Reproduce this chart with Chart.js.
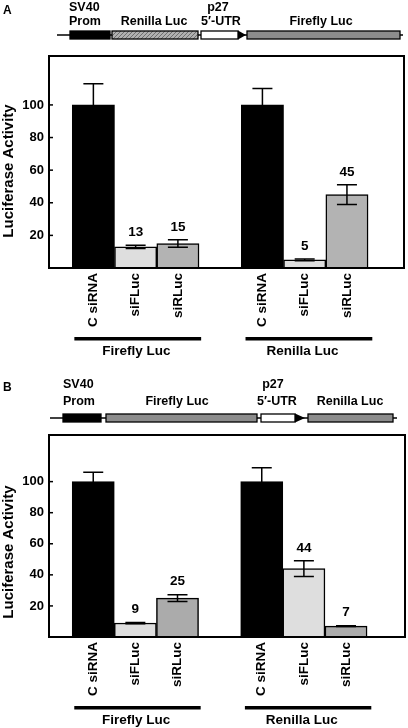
<!DOCTYPE html>
<html>
<head>
<meta charset="utf-8">
<script src="https://cdn.jsdelivr.net/npm/chart.js@4.4.0/dist/chart.umd.min.js"></script>
<style>
  html, body { margin: 0; padding: 0; background: #fff; }
  #wrap { position: relative; width: 408px; height: 728px; }
  canvas { position: absolute; left: 0; }
</style>
</head>
<body>
<div id="wrap">
  <canvas id="ch-a" width="408" height="364" style="top:0"></canvas>
  <canvas id="ch-b" width="408" height="364" style="top:364px"></canvas>
</div>
<script>
// data
const xPos = [0, 1, 2, 4, 5, 6];
const xLabels = ['C siRNA', 'siFLuc', 'siRLuc', 'C siRNA', 'siFLuc', 'siRLuc'];
const showValue = [false, true, true, false, true, true];
const groupNames = ['Firefly Luc', 'Renilla Luc'];
const yTicks = [20, 40, 60, 80, 100];

const valuesA = [100, 13, 15, 100, 5, 45];
const errorsA = [13, 1, 2.3, 10, 0.5, 6];
const colorsA = ['#000000', '#dedede', '#b3b3b3', '#000000', '#dedede', '#b3b3b3'];

const valuesB = [100, 9, 25, 100, 44, 7];
const errorsB = [6, 0.4, 2.2, 9, 5, 0.3];
const colorsB = ['#000000', '#dedede', '#ababab', '#000000', '#dedede', '#ababab'];

const FONT = '"Liberation Sans", Arial, sans-serif';

function hatch(ctx) {
  const c = document.createElement('canvas');
  c.width = 4; c.height = 4;
  const g = c.getContext('2d');
  g.fillStyle = '#b0b0b0'; g.fillRect(0, 0, 4, 4);
  g.strokeStyle = '#6e6e6e'; g.lineWidth = 1;
  g.beginPath(); g.moveTo(0, 4); g.lineTo(4, 0); g.stroke();
  return ctx.createPattern(c, 'repeat');
}

function text(ctx, s, x, y, align, size) {
  ctx.font = 'bold ' + size + 'px ' + FONT;
  ctx.textAlign = align; ctx.textBaseline = 'middle';
  ctx.fillStyle = '#000';
  ctx.fillText(s, x, y);
}

function drawConstruct(ctx, c) {
  ctx.save();
  text(ctx, c.letter, 3, c.ty1 + 3, 'left', 12);
  ctx.strokeStyle = '#000'; ctx.lineWidth = 1.3;
  ctx.beginPath(); ctx.moveTo(c.line[0], c.y); ctx.lineTo(c.line[1], c.y); ctx.stroke();
  c.boxes.forEach(b => {
    const top = c.y - 4, h = 8;
    if (b.kind === 'utr') {
      ctx.fillStyle = '#fff';
      ctx.fillRect(b.x0, top, b.x1 - b.x0, h);
      ctx.strokeRect(b.x0, top, b.x1 - b.x0, h);
      ctx.fillStyle = '#000';
      ctx.beginPath(); ctx.moveTo(b.x1, top - 0.5); ctx.lineTo(b.tip, c.y); ctx.lineTo(b.x1, top + h + 0.5); ctx.closePath(); ctx.fill();
      return;
    }
    ctx.fillStyle = b.kind === 'prom' ? '#000' : b.kind === 'hatch' ? hatch(ctx) : '#8c8c8c';
    ctx.fillRect(b.x0, top, b.x1 - b.x0, h);
    ctx.strokeRect(b.x0, top, b.x1 - b.x0, h);
  });
  c.labels.forEach(l => text(ctx, l.s, l.x, l.y, l.align || 'center', 12.5));
  ctx.restore();
}

const panelPlugin = {
  id: 'panel',
  afterDraw(chart) {
    const p = chart.options.plugins.panel;
    const ctx = chart.ctx, area = chart.chartArea;
    const xs = chart.scales.x, ys = chart.scales.y;
    const meta = chart.getDatasetMeta(0);
    ctx.save();
    // error bars
    ctx.strokeStyle = '#000'; ctx.lineWidth = 1.5;
    meta.data.forEach((bar, i) => {
      const v = p.values[i], e = p.errors[i];
      const yt = ys.getPixelForValue(v + e), yb = ys.getPixelForValue(v - e);
      ctx.beginPath();
      ctx.moveTo(bar.x, yt); ctx.lineTo(bar.x, yb);
      ctx.moveTo(bar.x - 10, yt); ctx.lineTo(bar.x + 10, yt);
      ctx.moveTo(bar.x - 10, yb); ctx.lineTo(bar.x + 10, yb);
      ctx.stroke();
      if (showValue[i]) text(ctx, String(v), bar.x, yt - 13, 'center', 13.5);
    });
    // frame and inward ticks
    ctx.lineWidth = 2;
    ctx.strokeRect(area.left, area.top, area.right - area.left, area.bottom - area.top);
    ctx.lineWidth = 1.5;
    yTicks.forEach(t => {
      const y = ys.getPixelForValue(t);
      ctx.beginPath(); ctx.moveTo(area.left, y); ctx.lineTo(area.left + 4, y); ctx.stroke();
    });
    // y title
    ctx.save();
    ctx.translate(9, (area.top + area.bottom) / 2 + p.titleShift);
    ctx.rotate(-Math.PI / 2);
    text(ctx, 'Luciferase Activity', 0, 0, 'center', 15);
    ctx.restore();
    // group bars under labels
    const spans = [[-0.45, 2.55, 1.02], [3.6, 6.6, 4.95]];
    spans.forEach((s, gi) => {
      const x0 = xs.getPixelForValue(s[0]), x1 = xs.getPixelForValue(s[1]);
      ctx.fillStyle = '#000';
      ctx.fillRect(x0, area.bottom + 69, x1 - x0, 3.5);
      text(ctx, groupNames[gi], xs.getPixelForValue(s[2]), area.bottom + 83, 'center', 13.5);
    });
    drawConstruct(ctx, p.construct);
    ctx.restore();
  }
};

function makeChart(id, values, errors, colors, cfg) {
  return new Chart(document.getElementById(id), {
    type: 'bar',
    data: {
      datasets: [{
        data: xPos.map((x, i) => ({ x: x, y: values[i] })),
        backgroundColor: colors,
        borderColor: '#000',
        borderWidth: 1.5,
        barPercentage: 1,
        categoryPercentage: 1
      }]
    },
    options: {
      responsive: false, animation: false,
      layout: { padding: { top: cfg.top, right: cfg.right, left: 0, bottom: 0 } },
      plugins: {
        legend: { display: false }, tooltip: { enabled: false },
        panel: { values: values, errors: errors, titleShift: cfg.titleShift, construct: cfg.construct }
      },
      scales: {
        x: {
          type: 'linear', min: -1.05, max: cfg.xMax, offset: false,
          grid: { display: false, drawTicks: false }, border: { display: false },
          afterBuildTicks: s => { s.ticks = xPos.map(v => ({ value: v })); },
          afterFit: s => { s.height = cfg.bottom; },
          ticks: {
            autoSkip: false, minRotation: 90, maxRotation: 90, padding: 5, color: '#000',
            font: { family: FONT, size: 13.5, weight: 'bold' },
            callback: v => xLabels[xPos.indexOf(v)] || ''
          }
        },
        y: {
          min: 0, max: 130,
          grid: { display: false, drawTicks: false }, border: { display: false },
          afterBuildTicks: s => { s.ticks = yTicks.map(v => ({ value: v })); },
          afterFit: s => { s.width = 49; },
          ticks: { padding: 5, color: '#000', font: { family: FONT, size: 13, weight: 'bold' } }
        }
      }
    },
    plugins: [panelPlugin]
  });
}

makeChart('ch-a', valuesA, errorsA, colorsA, {
  top: 56, right: 4, bottom: 96, xMax: 7.35, titleShift: 9,
  construct: {
    letter: 'A', y: 35, ty1: 8, line: [57, 403],
    boxes: [
      { kind: 'prom', x0: 70, x1: 110 },
      { kind: 'hatch', x0: 112, x1: 198 },
      { kind: 'utr', x0: 201, x1: 238, tip: 246 },
      { kind: 'gray', x0: 247, x1: 400 }
    ],
    labels: [
      { s: 'SV40', x: 69, y: 8, align: 'left' }, { s: 'Prom', x: 69, y: 22, align: 'left' },
      { s: 'Renilla Luc', x: 154, y: 22 },
      { s: 'p27', x: 218, y: 8 }, { s: '5\u2032-UTR', x: 221, y: 22 },
      { s: 'Firefly Luc', x: 321, y: 22 }
    ]
  }
});

makeChart('ch-b', valuesB, errorsB, colorsB, {
  top: 71, right: 3, bottom: 91, xMax: 7.4, titleShift: 16,
  construct: {
    letter: 'B', y: 54, ty1: 21, line: [50, 397],
    boxes: [
      { kind: 'prom', x0: 63, x1: 101 },
      { kind: 'gray', x0: 106, x1: 257 },
      { kind: 'utr', x0: 261, x1: 295, tip: 305 },
      { kind: 'gray', x0: 308, x1: 393 }
    ],
    labels: [
      { s: 'SV40', x: 63, y: 21, align: 'left' }, { s: 'Prom', x: 63, y: 38, align: 'left' },
      { s: 'Firefly Luc', x: 177, y: 38 },
      { s: 'p27', x: 273, y: 21 }, { s: '5\u2032-UTR', x: 277, y: 38 },
      { s: 'Renilla Luc', x: 350, y: 38 }
    ]
  }
});
</script>
</body>
</html>
